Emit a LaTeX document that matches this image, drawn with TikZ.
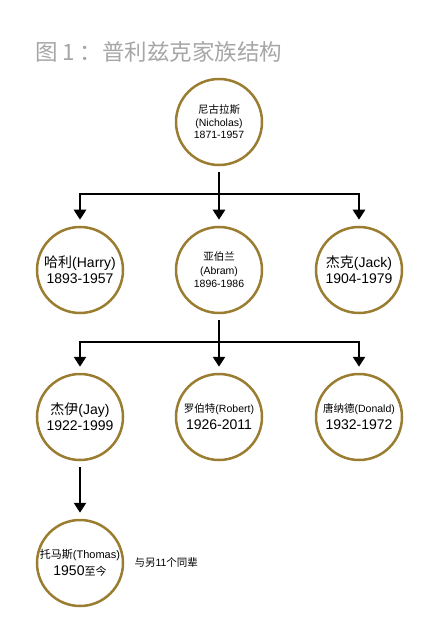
\documentclass[tikz,border=0pt]{standalone}
\usepackage{fontspec}
\setmainfont{Liberation Sans}
\newfontfamily\cjk{Noto Sans CJK SC}
\usetikzlibrary{arrows.meta}
\definecolor{gold}{HTML}{9A7D30}
\definecolor{titlegrey}{HTML}{A6A6A6}
\newcommand{\zh}[1]{{\cjk #1}}
\newcommand{\fs}[1]{\fontsize{#1}{#1}\selectfont}

\begin{document}
\begin{tikzpicture}[x=1pt,y=-1pt,
    person/.style={circle,draw=gold,line width=2.5pt,minimum size=86pt,inner sep=0pt,align=center},
    link/.style={line width=2.6pt,shorten <=6pt},
    arrow/.style={line width=2.6pt,-{Triangle[width=12pt,length=10pt]},shorten >=6pt}]
      \useasboundingbox (0,0) rectangle (440,636);
      \node[anchor=west,text=titlegrey,font=\cjk\fs{22.5}] (title) at (32,52) {图\hspace{4pt}1\hspace{5pt}：普利兹克家族结构};
      \node[person,font=\fs{10.5}] (nicholas) at (219,122) {\zh{尼古拉斯}\\[2pt](Nicholas)\\[2pt]1871-1957};
      \node[person,font=\fs{14}] (harry) at (80,270) {\zh{哈利}(Harry)\\[2pt]1893-1957};
      \node[person,font=\fs{10.5}] (abram) at (219,270) {\zh{亚伯兰}\\[3pt](Abram)\\[3pt]1896-1986};
      \node[person,font=\fs{14}] (jack) at (359,270) {\zh{杰克}(Jack)\\[2pt]1904-1979};
      \node[person,font=\fs{14}] (jay) at (80,417) {\zh{杰伊}(Jay)\\[2pt]1922-1999};
      \node[person,font=\fs{14}] (robert) at (219,417) {{\fs{10.5}\zh{罗伯特}(Robert)}\\[3pt]1926-2011};
      \node[person,font=\fs{14}] (donald) at (359,417) {{\fs{10.5}\zh{唐纳德}(Donald)}\\[3pt]1932-1972};
      \node[person,font=\fs{14}] (thomas) at (80,563) {{\fs{11}\zh{托马斯}(Thomas)}\\[3pt]1950{\fs{11}\zh{至今}}};
      \node[anchor=west,font=\fs{10.5}] (peers) at (131,563) {\zh{与另}11\zh{个同辈}};
      \coordinate (b1) at (219,194);
      \coordinate (b2) at (219,342);
      \draw[link] (nicholas) -- (b1);
      \draw[arrow] (b1) -| (harry);
      \draw[arrow] (b1) -- (abram);
      \draw[arrow] (b1) -| (jack);
      \draw[link] (abram) -- (b2);
      \draw[arrow] (b2) -| (jay);
      \draw[arrow] (b2) -- (robert);
      \draw[arrow] (b2) -| (donald);
      \draw[link,arrow] (jay) -- (thomas);
    \end{tikzpicture}
\end{document}
